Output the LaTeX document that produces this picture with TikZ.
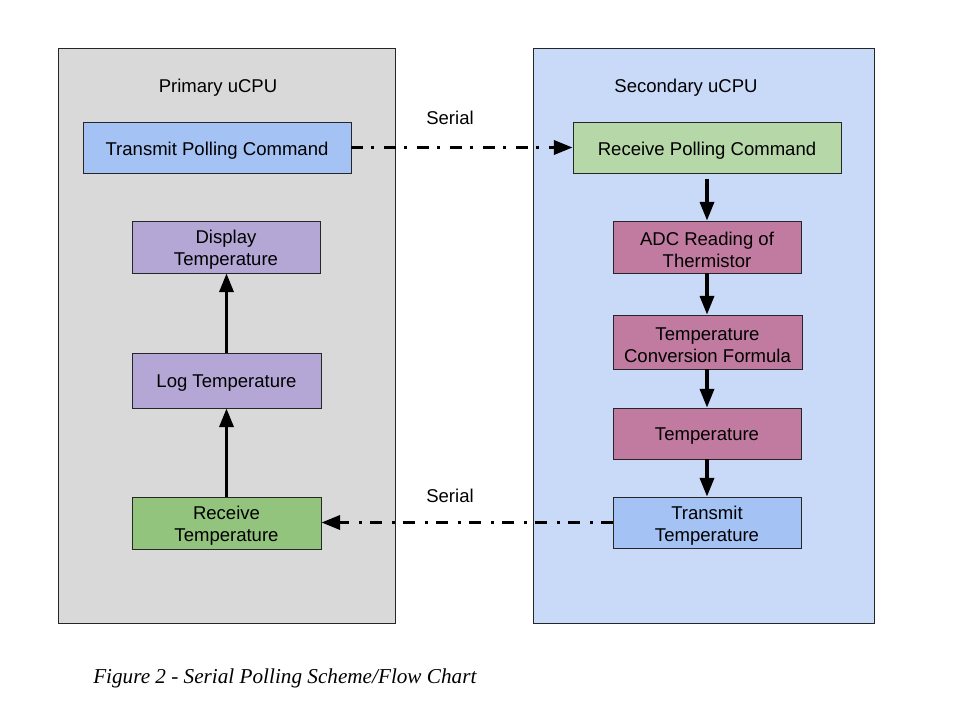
\documentclass[tikz,border=0pt]{standalone}
\usepackage{fontspec}
\setmainfont{Liberation Serif}
\newfontfamily\arialf{Liberation Sans}
\usetikzlibrary{arrows.meta}
\definecolor{panelgray}{HTML}{D9D9D9}
\definecolor{panelblue}{HTML}{C9DAF8}
\definecolor{boxblue}{HTML}{A4C2F4}
\definecolor{boxpurple}{HTML}{B4A7D6}
\definecolor{boxgreen}{HTML}{93C47D}
\definecolor{boxlgreen}{HTML}{B6D7A8}
\definecolor{boxmag}{HTML}{C27BA0}
\tikzset{
  panel/.style={draw=black!85, line width=0.6pt},
  box/.style={draw=black!85, line width=0.6pt, rectangle, inner sep=0pt},
  boxtxt/.style={align=center, inner sep=0pt, yshift=-2.2pt,
    font=\arialf\fontsize{13.9}{16.5}\selectfont},
  lbl/.style={font=\arialf\fontsize{13.9}{16.5}\selectfont, inner sep=0pt},
  flow/.style={line width=2.5pt, -{Triangle[length=14pt,width=10.5pt]}},
  serial/.style={line width=2.5pt, dash pattern=on 9pt off 6pt on 2.25pt off 7.5pt, -{Triangle[length=14pt,width=10.5pt]}},
}
\begin{document}
\begin{tikzpicture}[x=0.75pt,y=-0.75pt]
\useasboundingbox (0,0) rectangle (960,720);
\fill[white] (0,0) rectangle (960,720);
\draw[panel, fill=panelgray] (58,48) rectangle (395,623);
\draw[panel, fill=panelblue] (533,48) rectangle (874,623);
\node[lbl] (ptitle) at (218,87.5) {Primary uCPU};
\node[lbl] (stitle) at (686,87.5) {Secondary uCPU};
\node[lbl] (ser1) at (450,118) {Serial};
\node[lbl] (ser2) at (450,496) {Serial};
% left column
\node[box, fill=boxblue, minimum width=201pt, minimum height=38.25pt,
  label={[boxtxt]center:Transmit Polling Command}] (tpc) at (217,147.5) {};
\node[box, fill=boxpurple, minimum width=141pt, minimum height=39pt,
  label={[boxtxt]center:Display\\Temperature}] (disp) at (226,247) {};
\node[box, fill=boxpurple, minimum width=141.75pt, minimum height=41.25pt,
  label={[boxtxt]center:Log Temperature}] (log) at (226.5,380.5) {};
\node[box, fill=boxgreen, minimum width=141.75pt, minimum height=39pt,
  label={[boxtxt]center:Receive\\Temperature}] (rt) at (226.5,523) {};
% right column
\node[box, fill=boxlgreen, minimum width=201pt, minimum height=38.25pt,
  label={[boxtxt]center:Receive Polling Command}] (rpc) at (707,147.5) {};
\node[box, fill=boxmag, minimum width=141pt, minimum height=39pt,
  label={[boxtxt]center:ADC Reading of\\Thermistor}] (adc) at (707,247) {};
\node[box, fill=boxmag, minimum width=141.75pt, minimum height=40.5pt,
  label={[boxtxt]center:Temperature\\Conversion Formula}] (conv) at (707.5,342) {};
\node[box, fill=boxmag, minimum width=141pt, minimum height=38.25pt,
  label={[boxtxt]center:Temperature}] (temp) at (707,433.5) {};
\node[box, fill=boxblue, minimum width=141pt, minimum height=38.25pt,
  label={[boxtxt]center:Transmit\\Temperature}] (tt) at (707,522.5) {};
% arrows
\draw[flow, shorten <=4.5pt] (rpc.south) -- (adc.north);
\draw[flow] (adc.south) -- (adc.south |- conv.north);
\draw[flow] (adc.south |- conv.south) -- (adc.south |- temp.north);
\draw[flow] (temp.south) -- (tt.north);
\draw[flow] (rt.north) -- (log.south);
\draw[flow] (rt.north |- log.north) -- (rt.north |- disp.south);
\draw[serial] (tpc.east) -- (rpc.west);
\draw[serial] (tt.west) -- (tt.west -| rt.east);
\node[anchor=west, inner sep=0pt, font=\itshape\fontsize{15.9}{18}\selectfont] (cap) at (93,678) {Figure 2 - Serial Polling Scheme/Flow Chart};
\end{tikzpicture}
\end{document}
